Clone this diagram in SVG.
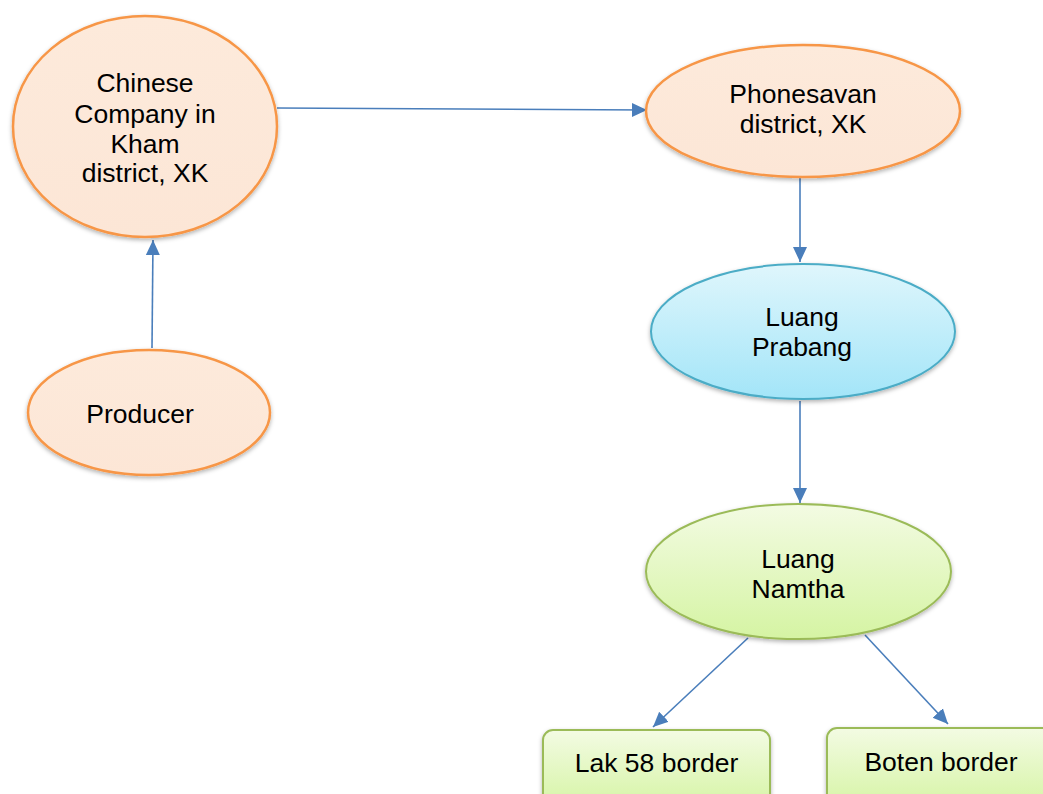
<svg xmlns="http://www.w3.org/2000/svg" width="1043" height="794" viewBox="0 0 1043 794">
  <defs>
    <linearGradient id="gOrange" x1="0" y1="0" x2="0" y2="1">
      <stop offset="0" stop-color="#FDEADB"/>
      <stop offset="1" stop-color="#FCE6D6"/>
    </linearGradient>
    <linearGradient id="gBlue" x1="0" y1="0" x2="0" y2="1">
      <stop offset="0" stop-color="#DFF6FC"/>
      <stop offset="1" stop-color="#A3E5F8"/>
    </linearGradient>
    <linearGradient id="gGreen" x1="0" y1="0" x2="0" y2="1">
      <stop offset="0" stop-color="#F3FBE3"/>
      <stop offset="1" stop-color="#D5F4A3"/>
    </linearGradient>
    <filter id="shadow" x="-10%" y="-10%" width="120%" height="130%">
      <feDropShadow dx="0" dy="2" stdDeviation="2" flood-color="#000" flood-opacity="0.3"/>
    </filter>
    <marker id="arrow" markerUnits="userSpaceOnUse" markerWidth="16" markerHeight="16" viewBox="0 0 16 16" refX="15" refY="8" orient="auto">
      <path d="M0,1 L15,8 L0,15 Z" fill="#4A7EBB"/>
    </marker>
    <style>
      .orange { fill: url(#gOrange); stroke: #F79646; stroke-width: 2.5; filter: url(#shadow); }
      .blue { fill: url(#gBlue); stroke: #4BACC6; stroke-width: 2; filter: url(#shadow); }
      .green { fill: url(#gGreen); stroke: #9BBB59; stroke-width: 2; filter: url(#shadow); }
      .lbl { font-family: "Liberation Sans", Arial, sans-serif; font-size: 26.5px; fill: #000; text-anchor: middle; }
      .conn { stroke: #4A7EBB; stroke-width: 1.6; fill: none; marker-end: url(#arrow); }
    </style>
  </defs>
  <rect width="1043" height="794" fill="#FFFFFF"/>

  <g id="connectors">
    <line class="conn" x1="277" y1="108" x2="647" y2="110"/>
    <line class="conn" x1="152" y1="348" x2="153" y2="240"/>
    <line class="conn" x1="800" y1="178" x2="800" y2="262"/>
    <line class="conn" x1="800" y1="401" x2="800" y2="503"/>
    <line class="conn" x1="748" y1="638" x2="653" y2="727"/>
    <line class="conn" x1="865" y1="635" x2="948" y2="724"/>
  </g>

  <g id="node-chinese">
    <ellipse class="orange" cx="145" cy="126.5" rx="132" ry="110.5"/>
    <text class="lbl" x="145" y="92">Chinese</text>
    <text class="lbl" x="145" y="123">Company in</text>
    <text class="lbl" x="145" y="153">Kham</text>
    <text class="lbl" x="145" y="182">district, XK</text>
  </g>

  <g id="node-producer">
    <ellipse class="orange" cx="149" cy="412.5" rx="121" ry="62.5"/>
    <text class="lbl" x="140" y="423">Producer</text>
  </g>

  <g id="node-phonesavan">
    <ellipse class="orange" cx="803" cy="111" rx="157" ry="66"/>
    <text class="lbl" x="803" y="103">Phonesavan</text>
    <text class="lbl" x="803" y="133">district, XK</text>
  </g>

  <g id="node-luang-prabang">
    <ellipse class="blue" cx="803" cy="331.5" rx="152" ry="67.5"/>
    <text class="lbl" x="802" y="326">Luang</text>
    <text class="lbl" x="802" y="356">Prabang</text>
  </g>

  <g id="node-luang-namtha">
    <ellipse class="green" cx="798.5" cy="571.5" rx="152.5" ry="67.5"/>
    <text class="lbl" x="798" y="568">Luang</text>
    <text class="lbl" x="798" y="598">Namtha</text>
  </g>

  <g id="node-lak58">
    <rect class="green" x="543" y="730" width="227" height="80" rx="10" ry="10"/>
    <text class="lbl" x="656.5" y="772">Lak 58 border</text>
  </g>

  <g id="node-boten">
    <rect class="green" x="827" y="728" width="240" height="82" rx="10" ry="10"/>
    <text class="lbl" x="941" y="771">Boten border</text>
  </g>
</svg>
